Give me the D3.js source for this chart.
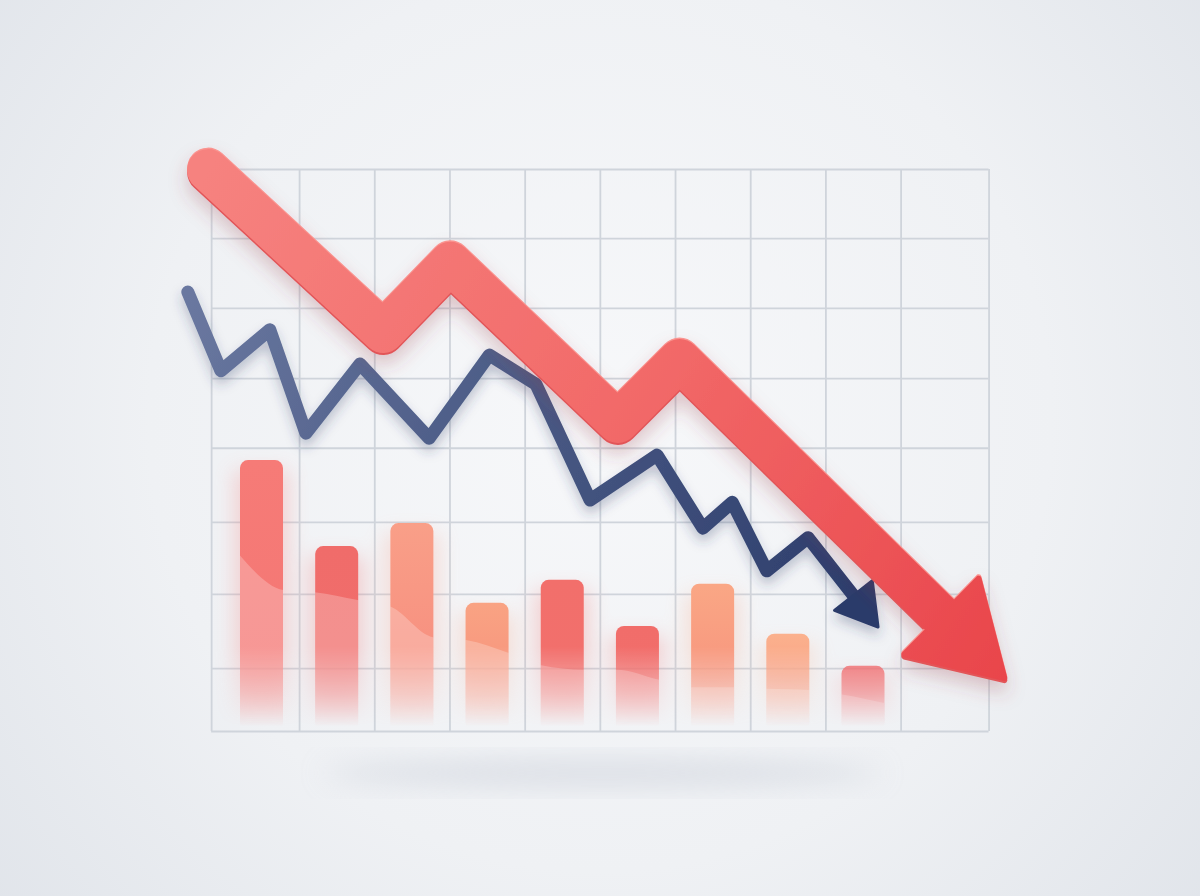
<!DOCTYPE html>
<html>
<head>
<meta charset="utf-8">
<script src="https://cdn.jsdelivr.net/npm/d3@7"></script>
<style>
  html, body { margin: 0; padding: 0; background: #eef0f3; overflow: hidden; }
</style>
</head>
<body>
<svg id="chart" width="1200" height="896"></svg>
<script>
// Bars (index along the x axis, value on a 0-100 scale)
const barIndex = [0, 1, 2, 3, 4, 5, 6, 7, 8];
const barValues = [48.2, 32.9, 37.0, 22.8, 26.9, 18.7, 26.2, 17.3, 11.6];

// Big red trend arrow, last point is the arrow tip
const redTrendX = [-0.71, 1.62, 2.51, 4.74, 5.56, 9.88];
const redTrendY = [99.8, 71.0, 83.3, 55.0, 66.0, 9.4];

// Navy zig-zag line, last point is the arrow tip
const blueTrendX = [-0.98, -0.54, 0.11, 0.59, 1.31, 2.23, 3.03, 3.65, 4.37, 5.26, 5.87, 6.26, 6.72, 7.27, 8.2];
const blueTrendY = [78.1, 64.1, 71.4, 53.0, 65.3, 52.1, 66.9, 61.7, 41.1, 49.1, 36.1, 40.7, 28.5, 34.4, 18.5];

// Soft wave reflected over the bars
const waveX = [-0.29, 0.29, 0.71, 1.28, 1.72, 2.28, 2.72, 3.29, 3.72, 4.29, 4.72, 5.29, 5.72, 6.28, 6.72, 7.28, 7.72, 8.28];
const waveY = [31.3, 25.1, 24.7, 23.3, 22.1, 16.7, 16.2, 13.9, 11.7, 10.9, 10.9, 9.1, 7.8, 7.8, 7.5, 7.3, 6.5, 5.0];

// Grid lines
const gridXValues = [-0.67, 0.5, 1.5, 2.5, 3.5, 4.5, 5.5, 6.5, 7.5, 8.5, 9.67];
const gridYValues = [0, 11.2, 24.4, 37.2, 50.4, 62.8, 75.3, 87.7, 100];

// Styles
const barPalette = ["#f67b77", "#f06c6a", "#f99f88", "#f9a383", "#f26f6b", "#f16d6a", "#faa785", "#fbb18d", "#f1686a"];
const barWidth = 43;
const redWidth = 42, redHeadLen = 88, redHeadHalf = 53;
const blueWidth = 13, blueHeadLen = 40, blueHeadHalf = 24;

const W = 1200, H = 896;
const svg = d3.select("#chart");
const defs = svg.append("defs");

const x = d3.scaleLinear().domain([0, 8]).range([261.5, 863]);
const y = d3.scaleLinear().domain([0, 100]).range([731, 169]);

// Background
const bg = defs.append("radialGradient").attr("id", "bg")
  .attr("gradientUnits", "userSpaceOnUse")
  .attr("cx", 600).attr("cy", 420).attr("r", 820);
bg.append("stop").attr("offset", 0).attr("stop-color", "#f7f8fa");
bg.append("stop").attr("offset", 0.55).attr("stop-color", "#eff1f4");
bg.append("stop").attr("offset", 1).attr("stop-color", "#dfe3e9");
svg.append("rect").attr("width", W).attr("height", H).attr("fill", "url(#bg)");

// Filters
const blur = (id, s) => defs.append("filter").attr("id", id)
  .attr("x", "-50%").attr("y", "-50%").attr("width", "200%").attr("height", "200%")
  .append("feGaussianBlur").attr("stdDeviation", s);
blur("softBlur", 14);
blur("glowBlur", 10);

const shadow = (id, dy, s, color, op) => defs.append("filter").attr("id", id)
  .attr("x", "-20%").attr("y", "-20%").attr("width", "140%").attr("height", "150%")
  .append("feDropShadow").attr("dx", 0).attr("dy", dy).attr("stdDeviation", s)
  .attr("flood-color", color).attr("flood-opacity", op);
shadow("redShadow", 10, 9, "#9a3a48", 0.26);
shadow("blueShadow", 7, 6, "#2b3a66", 0.28);

// Floor shadow under the chart
svg.append("ellipse")
  .attr("cx", (x.range()[0] + x.range()[1]) / 2 + 40).attr("cy", y(0) + 42)
  .attr("rx", 280).attr("ry", 13)
  .attr("fill", "#c2c8d3").attr("opacity", 0.5)
  .attr("filter", "url(#softBlur)");

// Grid
const gridColor = "#cfd4db";
svg.append("g").attr("class", "x-grid")
  .attr("transform", `translate(0,${y(0)})`)
  .call(d3.axisBottom(x).tickValues(gridXValues).tickSize(-(y(0) - y(100))).tickFormat(""));
svg.append("g").attr("class", "y-grid")
  .attr("transform", `translate(${x(gridXValues[0])},0)`)
  .call(d3.axisLeft(y).tickValues(gridYValues)
    .tickSize(-(x(gridXValues[gridXValues.length - 1]) - x(gridXValues[0]))).tickFormat(""));
svg.selectAll(".x-grid .domain, .y-grid .domain").remove();
svg.selectAll(".x-grid line, .y-grid line").attr("stroke", gridColor).attr("stroke-width", 1.8);

// Bars: fade out toward the baseline
const fade = defs.append("linearGradient").attr("id", "fadeGrad")
  .attr("gradientUnits", "userSpaceOnUse")
  .attr("x1", 0).attr("x2", 0).attr("y1", y(15)).attr("y2", y(0.8));
fade.append("stop").attr("offset", 0).attr("stop-color", "#fff").attr("stop-opacity", 1);
fade.append("stop").attr("offset", 0.6).attr("stop-color", "#fff").attr("stop-opacity", 0.45);
fade.append("stop").attr("offset", 1).attr("stop-color", "#fff").attr("stop-opacity", 0);
defs.append("mask").attr("id", "fadeMask").attr("maskUnits", "userSpaceOnUse")
  .attr("x", 0).attr("y", 0).attr("width", W).attr("height", H)
  .append("rect").attr("width", W).attr("height", H).attr("fill", "url(#fadeGrad)");

barIndex.forEach((d, i) => {
  const g = defs.append("linearGradient").attr("id", `bar${i}`)
    .attr("x1", 0).attr("x2", 0).attr("y1", 0).attr("y2", 1);
  g.append("stop").attr("offset", 0).attr("stop-color", barPalette[i]);
  g.append("stop").attr("offset", 1).attr("stop-color", d3.interpolateRgb(barPalette[i], "#f2706e")(0.5));
});

const barData = barIndex.map((d, i) => ({ i: d, v: barValues[i] }));

const clip = defs.append("clipPath").attr("id", "barClip");
clip.selectAll("rect").data(barData).join("rect")
  .attr("x", (d) => x(d.i) - barWidth / 2)
  .attr("y", (d) => y(d.v))
  .attr("width", barWidth)
  .attr("height", (d) => y(0) - y(d.v))
  .attr("rx", 8);

// soft glow behind the bars
svg.append("g").attr("opacity", 0.28).attr("filter", "url(#glowBlur)")
  .attr("mask", "url(#fadeMask)")
  .selectAll("rect").data(barData).join("rect")
  .attr("x", (d) => x(d.i) - barWidth / 2 - 6)
  .attr("y", (d) => y(d.v) + 10)
  .attr("width", barWidth + 12)
  .attr("height", (d) => y(0) - y(d.v) - 10)
  .attr("fill", (d, i) => barPalette[i]);

const barLayer = svg.append("g").attr("mask", "url(#fadeMask)");
barLayer.selectAll("rect.bar").data(barData).join("rect")
  .attr("class", "bar")
  .attr("x", (d) => x(d.i) - barWidth / 2)
  .attr("y", (d) => y(d.v))
  .attr("width", barWidth)
  .attr("height", (d) => y(0) - y(d.v))
  .attr("rx", 8)
  .attr("fill", (d, i) => `url(#bar${i})`);

// wave highlight over the lower part of the bars
const waveData = waveX.map((d, i) => [x(d), y(waveY[i])]);
const waveArea = d3.area().x((d) => d[0]).y0(y(0)).y1((d) => d[1]).curve(d3.curveMonotoneX);
barLayer.append("path")
  .attr("d", waveArea(waveData))
  .attr("fill", "#ffffff").attr("opacity", 0.24)
  .attr("clip-path", "url(#barClip)");

// Arrow helper: shaft points + head triangle in pixel space
function arrowGeometry(xs, ys, headLen, headHalf) {
  const pts = xs.map((d, i) => [x(d), y(ys[i])]);
  const tip = pts[pts.length - 1];
  const prev = pts[pts.length - 2];
  const len = Math.hypot(tip[0] - prev[0], tip[1] - prev[1]);
  const ux = (tip[0] - prev[0]) / len, uy = (tip[1] - prev[1]) / len;
  const base = [tip[0] - ux * headLen, tip[1] - uy * headLen];
  const shaft = pts.slice(0, -1).concat([[base[0] + ux * 2, base[1] + uy * 2]]);
  const head = [
    [base[0] - uy * headHalf, base[1] + ux * headHalf],
    tip,
    [base[0] + uy * headHalf, base[1] - ux * headHalf],
  ];
  return { shaft, head };
}
const line = d3.line();

// Navy line
const blueGrad = defs.append("linearGradient").attr("id", "blueGrad")
  .attr("gradientUnits", "userSpaceOnUse")
  .attr("x1", x(blueTrendX[0])).attr("y1", y(blueTrendY[0]))
  .attr("x2", x(blueTrendX[blueTrendX.length - 1])).attr("y2", y(blueTrendY[blueTrendY.length - 1]));
blueGrad.append("stop").attr("offset", 0).attr("stop-color", "#6a78a0");
blueGrad.append("stop").attr("offset", 0.45).attr("stop-color", "#4a5a85");
blueGrad.append("stop").attr("offset", 1).attr("stop-color", "#2b3b6a");

const blue = arrowGeometry(blueTrendX, blueTrendY, blueHeadLen, blueHeadHalf);
const blueG = svg.append("g").attr("filter", "url(#blueShadow)");
blueG.append("path")
  .attr("d", line(blue.shaft))
  .attr("fill", "none")
  .attr("stroke", "url(#blueGrad)")
  .attr("stroke-width", blueWidth)
  .attr("stroke-linejoin", "round")
  .attr("stroke-linecap", "round");
blueG.append("path")
  .attr("d", line(blue.head) + "Z")
  .attr("fill", "#2b3b6a").attr("stroke", "#2b3b6a")
  .attr("stroke-width", 3).attr("stroke-linejoin", "round");

// Red arrow
const redGrad = defs.append("linearGradient").attr("id", "redGrad")
  .attr("gradientUnits", "userSpaceOnUse")
  .attr("x1", x(redTrendX[0])).attr("y1", y(redTrendY[0]))
  .attr("x2", x(redTrendX[redTrendX.length - 1])).attr("y2", y(redTrendY[redTrendY.length - 1]));
redGrad.append("stop").attr("offset", 0).attr("stop-color", "#f6827f");
redGrad.append("stop").attr("offset", 0.5).attr("stop-color", "#f26a69");
redGrad.append("stop").attr("offset", 1).attr("stop-color", "#e9454b");

const red = arrowGeometry(redTrendX, redTrendY, redHeadLen, redHeadHalf);
const redG = svg.append("g").attr("filter", "url(#redShadow)");
// slightly darker rim below and lighter rim above for a little depth
[[2, "#e25558"], [-1.5, "#fa9490"]].forEach(([dy, c]) => {
  const rim = redG.append("g").attr("transform", `translate(0,${dy})`);
  rim.append("path").attr("d", line(red.shaft)).attr("fill", "none")
    .attr("stroke", c).attr("stroke-width", redWidth)
    .attr("stroke-linejoin", "round").attr("stroke-linecap", "round");
  rim.append("path").attr("d", line(red.head) + "Z").attr("fill", c)
    .attr("stroke", c).attr("stroke-width", 6).attr("stroke-linejoin", "round");
});
redG.append("path")
  .attr("d", line(red.shaft))
  .attr("fill", "none")
  .attr("stroke", "url(#redGrad)")
  .attr("stroke-width", redWidth)
  .attr("stroke-linejoin", "round")
  .attr("stroke-linecap", "round");
redG.append("path")
  .attr("d", line(red.head) + "Z")
  .attr("fill", "url(#redGrad)").attr("stroke", "url(#redGrad)")
  .attr("stroke-width", 6).attr("stroke-linejoin", "round");
</script>
</body>
</html>
